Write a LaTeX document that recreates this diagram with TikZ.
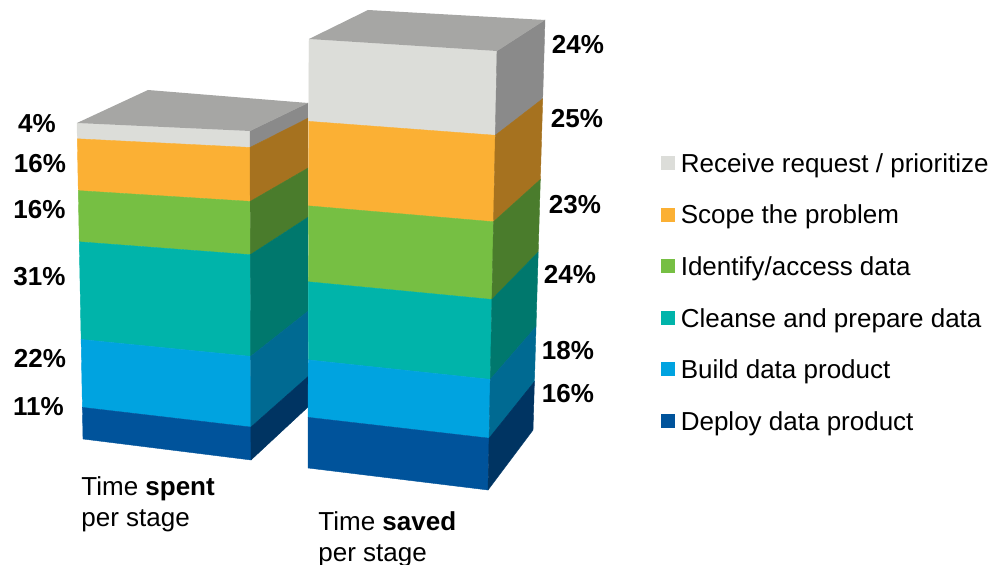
\documentclass[tikz,border=0pt]{standalone}
\usepackage{fontspec}
\setmainfont{Liberation Sans}
\usepackage{tikz}
\usetikzlibrary{positioning}
\usetikzlibrary{calc}
\usepackage{xcolor}

% stage colours: front face / side face
\definecolor{recvF}{HTML}{DCDDD9}
\definecolor{recvS}{HTML}{8A8A8A}
\definecolor{scopeF}{HTML}{FBB034}
\definecolor{scopeS}{HTML}{A6721F}
\definecolor{identF}{HTML}{76BF43}
\definecolor{identS}{HTML}{4A7C2C}
\definecolor{cleanF}{HTML}{00B4AA}
\definecolor{cleanS}{HTML}{00786D}
\definecolor{buildF}{HTML}{00A3E0}
\definecolor{buildS}{HTML}{006A92}
\definecolor{deplF}{HTML}{00539B}
\definecolor{deplS}{HTML}{003462}
\definecolor{topF}{HTML}{A6A6A4}

\tikzset{
  pct/.style={font=\fontsize{13}{15}\selectfont\bfseries, inner sep=0pt, text height=9.3pt, text depth=0pt},
  legsq/.style={minimum size=7pt, inner sep=0pt},
  legtxt/.style={font=\fontsize{13}{15}\selectfont, inner sep=0pt, text height=9.3pt, text depth=0pt, anchor=west},
  caption/.style={font=\fontsize{13}{15.5}\selectfont, inner sep=0pt, align=left, anchor=north west}
}

\begin{document}
\begin{tikzpicture}[x=0.5pt, y=-0.5pt]
  \useasboundingbox (0,0) rectangle (1000,565);

  % Time spent bar
  \coordinate (sTL) at (77,123);
  \coordinate (sBL) at (83,439);
  \coordinate (sTR) at (250,131);
  \coordinate (sBR) at (251,460);
  \coordinate (sKT) at (308,103);
  \coordinate (sKB) at (308,407);
  \coordinate (sBK) at (148,90);
  \foreach \a/\b/\cf/\cs in {0/0.05/recvF/recvS, 0.05/0.214/scopeF/scopeS, 0.214/0.376/identF/identS, 0.376/0.685/cleanF/cleanS, 0.685/0.9/buildF/buildS, 0.9/1/deplF/deplS} {
    \filldraw[fill=\cf, draw=\cf, line width=0.2pt] ($(sTL)!\a!(sBL)$) -- ($(sTR)!\a!(sBR)$) -- ($(sTR)!\b!(sBR)$) -- ($(sTL)!\b!(sBL)$) -- cycle;
    \filldraw[fill=\cs, draw=\cs, line width=0.2pt] ($(sTR)!\a!(sBR)$) -- ($(sKT)!\a!(sKB)$) -- ($(sKT)!\b!(sKB)$) -- ($(sTR)!\b!(sBR)$) -- cycle;
  }
  \fill[topF] (sTL) -- (sBK) -- (sKT) -- (sTR) -- cycle;

  % Time saved bar
  \coordinate (vTL) at (309,39);
  \coordinate (vBL) at (308,468);
  \coordinate (vTR) at (497,51);
  \coordinate (vBR) at (488,490);
  \coordinate (vKT) at (545,20);
  \coordinate (vKB) at (533,430);
  \coordinate (vBK) at (368,10);
  \foreach \a/\b/\cf/\cs in {0/0.192/recvF/recvS, 0.192/0.389/scopeF/scopeS, 0.389/0.566/identF/identS, 0.566/0.748/cleanF/cleanS, 0.748/0.882/buildF/buildS, 0.882/1/deplF/deplS} {
    \filldraw[fill=\cf, draw=\cf, line width=0.2pt] ($(vTL)!\a!(vBL)$) -- ($(vTR)!\a!(vBR)$) -- ($(vTR)!\b!(vBR)$) -- ($(vTL)!\b!(vBL)$) -- cycle;
    \filldraw[fill=\cs, draw=\cs, line width=0.2pt] ($(vTR)!\a!(vBR)$) -- ($(vKT)!\a!(vKB)$) -- ($(vKT)!\b!(vKB)$) -- ($(vTR)!\b!(vBR)$) -- cycle;
  }
  \fill[topF] (vTL) -- (vBK) -- (vKT) -- (vTR) -- cycle;

  % Percent labels
  \foreach \i/\x/\y/\v in {1/37/123.5/4, 2/40/163/16, 3/39.5/209/16, 4/39.5/276/31, 5/40/358/22, 6/38.5/406.5/11} {
    \node[pct] (ps\i) at (\x,\y) {\v\%};
  }
  \foreach \i/\x/\y/\v in {1/578/44/24, 2/577/118/25, 3/575/204/23, 4/570/274/24, 5/568/350/18, 6/568/393/16} {
    \node[pct] (pv\i) at (\x,\y) {\v\%};
  }

  % Legend
  \foreach \i/\c/\t in {1/recvF/{Receive request / prioritize}, 2/scopeF/{Scope the problem}, 3/identF/{Identify/access data}, 4/cleanF/{Cleanse and prepare data}, 5/buildF/{Build data product}, 6/deplF/{Deploy data product}} {
    \node[legsq, fill=\c] (sq\i) at (668,{163+51.6*(\i-1)}) {};
    \node[legtxt, right=2.5pt of sq\i] (lg\i) {\t};
  }

  % Captions
  \node[caption] (spent) at (81,476) {Time \textbf{spent}\\per stage};
  \node[caption] (saved) at (318,511) {Time \textbf{saved}\\per stage};
\end{tikzpicture}
\end{document}
